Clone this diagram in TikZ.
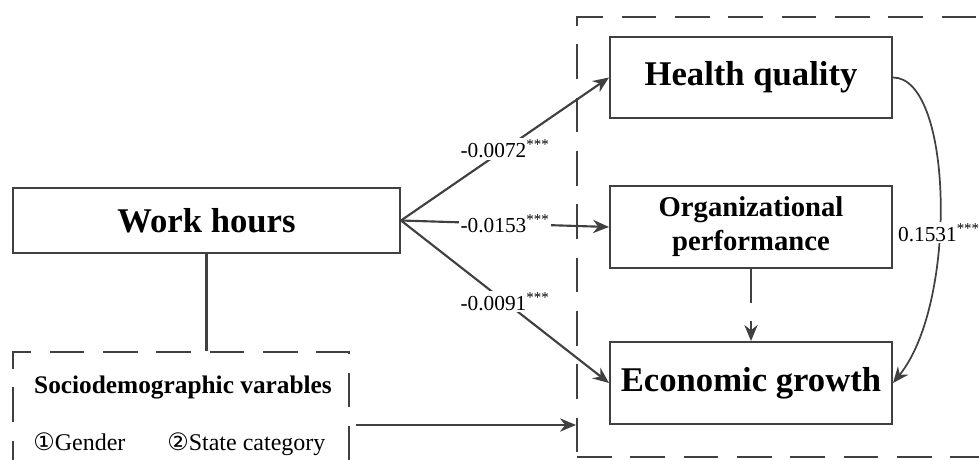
\documentclass[tikz,border=0pt]{standalone}
\usepackage{fontspec}
\setmainfont{Liberation Serif}
\newfontfamily\circfont{DejaVu Sans}
\usepackage{tikz}
\usetikzlibrary{arrows.meta, positioning, fit, calc}
\definecolor{linegray}{HTML}{404040}

\begin{document}
\begin{tikzpicture}[
    x=0.75pt, y=-0.75pt,
    box/.style={rectangle, draw=linegray, line width=1.5pt, minimum width=211.5pt, minimum height=61.5pt, align=center, font=\fontsize{26}{30}\selectfont\bfseries},
    group/.style={rectangle, draw=linegray, line width=1.5pt, dash pattern=on 26pt off 14pt, inner sep=0pt},
    arrow/.style={-{Stealth[length=12pt, width=10pt]}, draw=linegray, line width=1.6pt},
    coef/.style={fill=white, inner sep=1pt, font=\fontsize{16}{18}\selectfont},
    item/.style={inner sep=0pt, font=\fontsize{18}{22}\selectfont}
]
\useasboundingbox (0,0) rectangle (979,460);
\clip (0,0) rectangle (979,460);

% Outcomes
\node[group, fit={(577,17) (1010,457)}] (outcomes) {};
\node[box, minimum height=60.75pt] (health) at (751,77.5) {Health quality};
\node[box, below=49.5pt of health, font=\fontsize{21.5}{25.5}\selectfont\bfseries] (org) {Organizational\\performance};
\node[box, below=54pt of org] (econ) {Economic growth};

% Work hours and controls
\node[box, minimum width=290.25pt, minimum height=48.75pt] (work) at (206.5,220.5) {Work hours};
\node[group, fit={(13,352) (349,498)}] (socio) {};
\node[anchor=base, inner sep=0pt, font=\fontsize{19}{22}\selectfont\bfseries] (sociotitle) at (183,393) {Sociodemographic varables};
\node[item, anchor=base west] (gender) at (33,450) {{\circfont ①}Gender};
\node[item, anchor=base west] (state) at (167,450) {{\circfont ②}State category};

\draw[linegray, line width=1.6pt] (work.south) -- (work.south |- socio.north);

\draw[arrow] (work.east) -- node[coef] {-0.0072\textsuperscript{***}} (health.west);
\draw[arrow] (work.east) -- node[coef] {-0.0153\textsuperscript{***}} (org.west);
\draw[arrow] (work.east) -- node[coef] {-0.0091\textsuperscript{***}} (econ.west);
\draw[arrow, shorten <=4.5pt] (socio.east) -- (socio.east -| outcomes.west);

% Mediation
\draw[arrow, line width=1.3pt, dash pattern=on 25.5pt off 13.5pt] (org.south) -- (econ.north);
\draw[arrow, line width=1.3pt] (health.east) .. controls +(60,0) and +(65,-80) .. node[coef, pos=0.58] {0.1531\textsuperscript{***}} (econ.east);

\end{tikzpicture}
\end{document}
